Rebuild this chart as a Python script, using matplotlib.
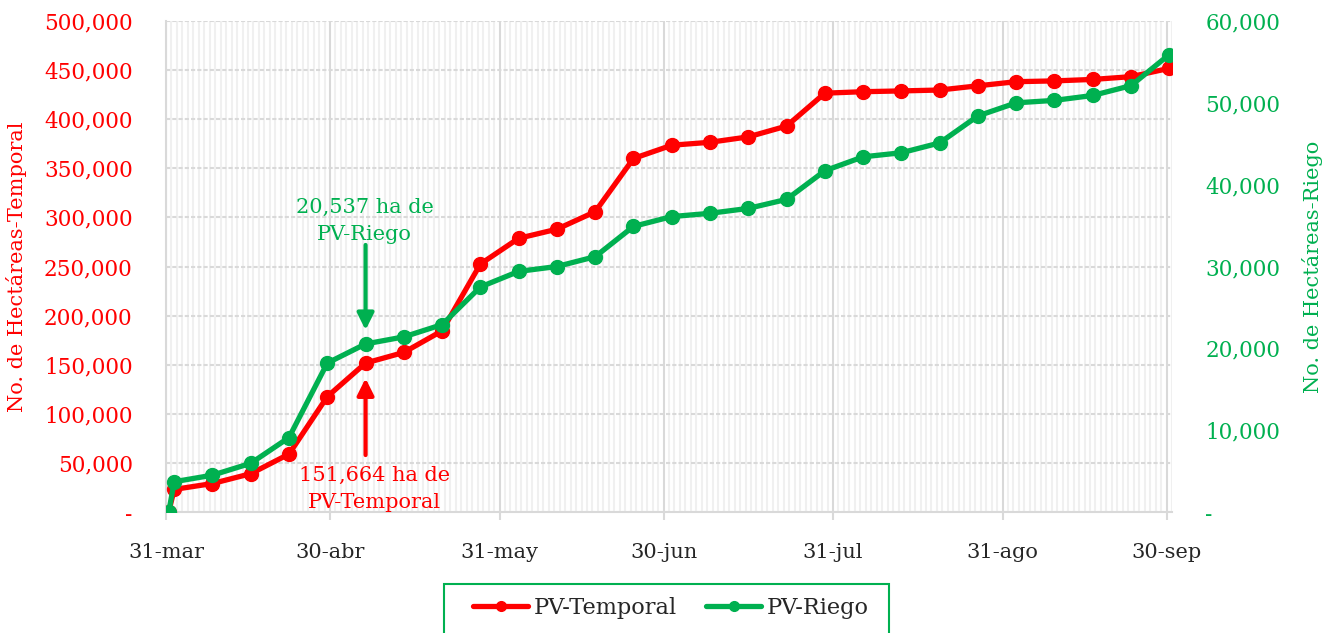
import matplotlib
matplotlib.use("Agg")
import matplotlib.pyplot as plt
import matplotlib.dates as mdates
from matplotlib.ticker import FuncFormatter, FixedLocator
from matplotlib.patches import Rectangle
import pandas as pd

# ---- data ----
fechas = ["2023-03-31", "2023-04-01", "2023-04-08", "2023-04-15", "2023-04-22", "2023-04-29",
          "2023-05-06", "2023-05-13", "2023-05-20", "2023-05-27", "2023-06-03", "2023-06-10",
          "2023-06-17", "2023-06-24", "2023-07-01", "2023-07-08", "2023-07-15", "2023-07-22",
          "2023-07-29", "2023-08-05", "2023-08-12", "2023-08-19", "2023-08-26", "2023-09-02",
          "2023-09-09", "2023-09-16", "2023-09-23", "2023-09-30"]
pv_temporal = [0, 23000, 29000, 39000, 59000, 117500,
               151664, 162500, 184500, 252500, 278700, 288000,
               305800, 360000, 373500, 376500, 382000, 393000,
               426500, 428000, 428800, 429700, 434000, 438200,
               439000, 440500, 443300, 451800]
pv_riego = [0, 3700, 4500, 5950, 9100, 18200,
            20537, 21400, 22900, 27500, 29400, 30000,
            31200, 34900, 36100, 36500, 37100, 38200,
            41700, 43400, 43900, 45100, 48400, 50000,
            50300, 50900, 52100, 55900]
tick_fechas = ["2023-03-31", "2023-04-30", "2023-05-31", "2023-06-30",
               "2023-07-31", "2023-08-31", "2023-09-30"]
tick_labels = ["31-mar", "30-abr", "31-may", "30-jun", "31-jul", "31-ago", "30-sep"]

RED = "#FF0000"
GREEN = "#00B050"
FONT = "DejaVu Serif"
plt.rcParams["font.family"] = [FONT]

fig = plt.figure(figsize=(13.33, 6.33), dpi=100)
ax = fig.add_axes([166/1333, 1-512/633, (1172-166)/1333, (512-21)/633])
ax2 = ax.twinx()

x = pd.to_datetime(fechas) + pd.Timedelta(hours=12)
xt = pd.to_datetime(tick_fechas)

ax.plot(x, pv_temporal, color=RED, lw=3.8, marker="o", ms=10, label="PV-Temporal",
        solid_capstyle="round", zorder=3)
ax2.plot(x, pv_riego, color=GREEN, lw=3.8, marker="o", ms=10, label="PV-Riego",
         solid_capstyle="round", zorder=3)

ax.set_xlim(pd.Timestamp("2023-03-31"), pd.Timestamp("2023-10-01"))
ax.set_ylim(0, 500000)
ax2.set_ylim(0, 60000)

ax.xaxis.set_major_locator(FixedLocator(mdates.date2num(xt)))
ax.set_xticklabels(tick_labels)
ax.xaxis.set_minor_locator(mdates.DayLocator())
ax.set_yticks(range(0, 500001, 50000))
ax2.set_yticks(range(0, 60001, 10000))

fmt = FuncFormatter(lambda v, p: "-" if v == 0 else f"{int(v):,}")
ax.yaxis.set_major_formatter(fmt)
ax2.yaxis.set_major_formatter(fmt)

ax.grid(axis="x", which="major", color="#d9d9d9", lw=1.5, zorder=0)
ax.grid(axis="x", which="minor", color="#f0f0f0", lw=1.5, zorder=0)
ax.grid(axis="y", which="major", color="#d9d9d9", lw=1.5, linestyle=(0, (2, 1)), zorder=0)
ax.set_axisbelow(True)

for a in (ax, ax2):
    for s in ("top", "right", "left"):
        a.spines[s].set_visible(False)
ax.spines["left"].set_visible(True)
ax.spines["left"].set_color("#d9d9d9")
ax.spines["left"].set_linewidth(1.5)
ax.spines["bottom"].set_color("#d9d9d9")
ax.spines["bottom"].set_linewidth(1.5)
ax2.spines["bottom"].set_visible(False)

ax.tick_params(axis="x", which="major", length=6, width=1.5, color="#d9d9d9",
               labelsize=15, labelcolor="#262626", pad=16.5)
ax.tick_params(axis="x", which="minor", length=0)
ax.tick_params(axis="y", length=0, labelsize=15.5, labelcolor=RED, pad=24)
ax2.tick_params(axis="y", length=0, labelsize=15.5, labelcolor=GREEN, pad=24)

ax.set_ylabel("No. de Hectáreas-Temporal", color=RED, fontsize=15)
ax2.set_ylabel("No. de Hectáreas-Riego", color=GREEN, fontsize=15, rotation=90)
ax.yaxis.set_label_coords(-0.138, 0.5)
ax2.yaxis.set_label_coords(1.129, 0.5)

# annotations
d_ann = pd.Timestamp("2023-05-06") + pd.Timedelta(hours=12)
ax2.annotate("", xy=(d_ann, 20537), xytext=(0, 99), textcoords="offset pixels",
             arrowprops=dict(arrowstyle="-|>,head_length=0.5,head_width=0.25",
                             mutation_scale=20, color=GREEN, lw=3, shrinkA=0, shrinkB=10))
ax2.annotate("20,537 ha de\nPV-Riego", xy=(d_ann, 20537), xytext=(-1, 123),
             textcoords="offset pixels", ha="center", va="center", color=GREEN,
             fontsize=15, linespacing=1.5)
ax.annotate("", xy=(d_ann, 151664), xytext=(0, -92), textcoords="offset pixels",
            arrowprops=dict(arrowstyle="-|>,head_length=0.5,head_width=0.25",
                            mutation_scale=20, color=RED, lw=3, shrinkA=0, shrinkB=11))
ax.annotate("151,664 ha de\nPV-Temporal", xy=(d_ann, 151664), xytext=(9, -126),
            textcoords="offset pixels", ha="center", va="center", color=RED,
            fontsize=15, linespacing=1.5)

h1, l1 = ax.get_legend_handles_labels()
h2, l2 = ax2.get_legend_handles_labels()
leg = fig.legend(h1 + h2, l1 + l2, loc="center", bbox_to_anchor=(671/1333, 1-608/633),
                 ncol=2, frameon=False, fontsize=16.2, handlelength=2.45,
                 handletextpad=0.25, columnspacing=1.3, borderpad=0, markerscale=0.7,
                 borderaxespad=0)
for t in leg.get_texts():
    t.set_color("#262626")
frame = Rectangle((444/1333, -0.05), (889-444)/1333, (1-584/633) + 0.05,
                  transform=fig.transFigure, fill=False, edgecolor=GREEN, lw=1.5)
fig.patches.append(frame)

fig.savefig("out.png", dpi=100)
